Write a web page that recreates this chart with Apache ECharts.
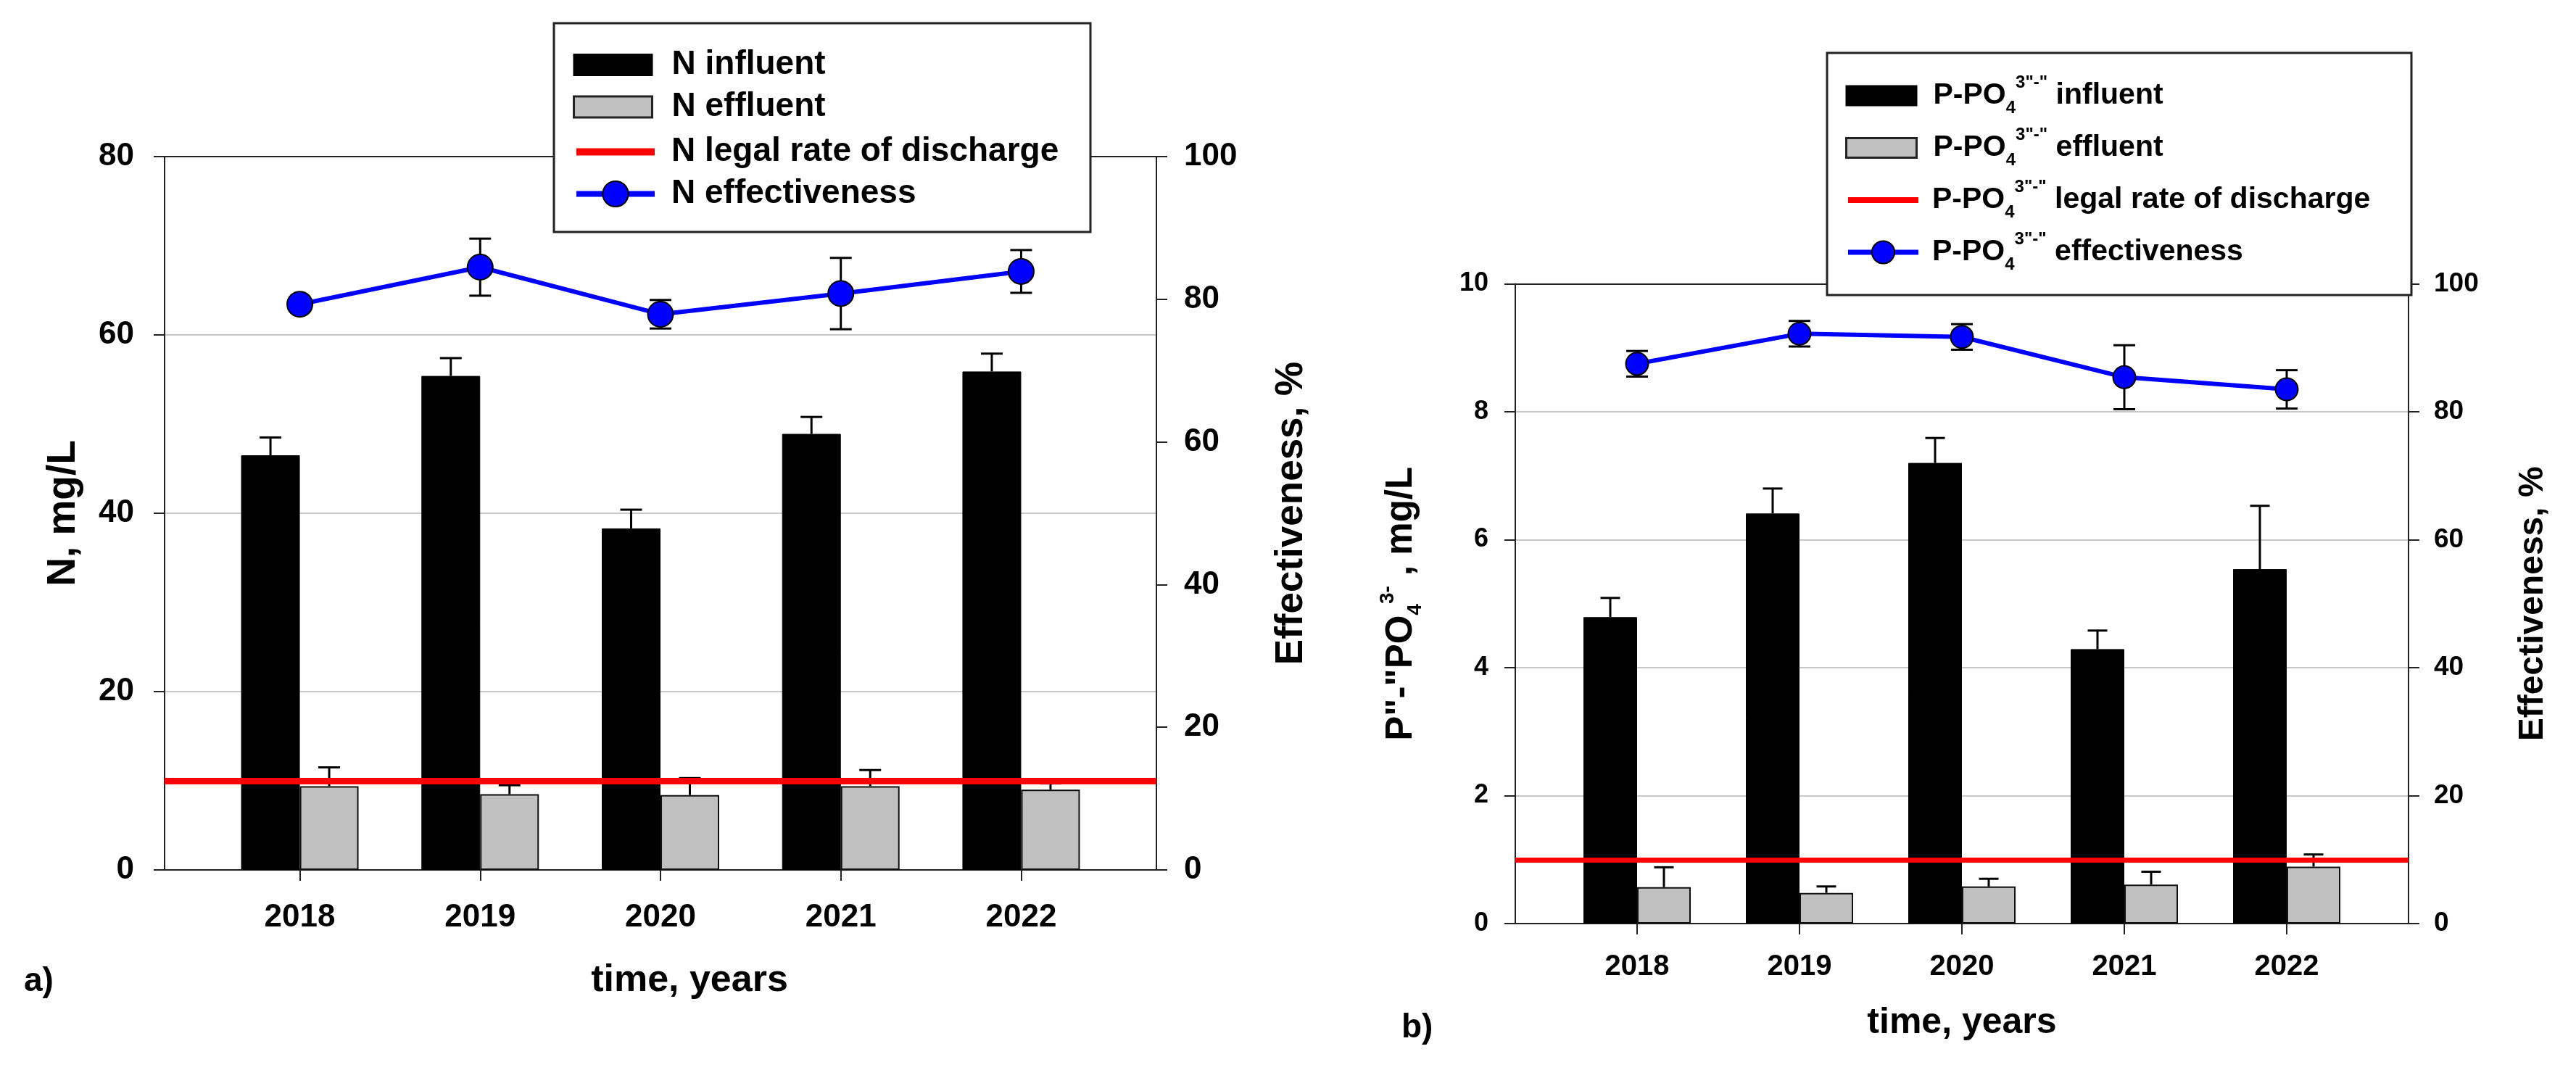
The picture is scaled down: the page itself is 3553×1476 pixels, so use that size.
<!DOCTYPE html>
<html><head><meta charset="utf-8">
<script src="https://cdn.jsdelivr.net/npm/echarts@6/dist/echarts.min.js"></script>
<style>html,body{margin:0;padding:0;background:#fff}#c{width:3553px;height:1476px}</style>
</head><body><div id="c"></div>
<script>
// ---------- data ----------
const years = ['2018', '2019', '2020', '2021', '2022'];

const nInfluent    = [46.5, 55.4, 38.3, 48.9, 55.9];
const nInfluentErr = [2.0, 2.0, 2.1, 1.9, 2.0];
const nEffluent    = [9.4, 8.5, 8.4, 9.4, 9.0];
const nEffluentErr = [2.1, 1.0, 1.9, 1.8, 0.7];
const nEffect      = [79.3, 84.5, 77.9, 80.8, 83.9];
const nEffectErr   = [0.8, 4.0, 2.0, 5.0, 3.0];
const nLegal = 10;

const pInfluent    = [4.79, 6.41, 7.20, 4.29, 5.54];
const pInfluentErr = [0.30, 0.39, 0.39, 0.29, 0.99];
const pEffluent    = [0.57, 0.48, 0.58, 0.61, 0.89];
const pEffluentErr = [0.31, 0.10, 0.12, 0.20, 0.19];
const pEffect      = [87.5, 92.2, 91.7, 85.4, 83.5];
const pEffectErr   = [2.0, 2.0, 2.0, 5.0, 3.0];
const pLegal = 1;

const nAxis = { min: 0, max: 80, interval: 20 };
const pAxis = { min: 0, max: 10, interval: 2 };
const effAxis = { min: 0, max: 100, interval: 20 };

// ---------- helpers ----------
const FONT = 'Liberation Sans, Arial, sans-serif';
const AX = '#222';
function errData(vals, errs) { return vals.map((v, i) => [i, v, errs[i]]); }
function errRender(offsetPx, capW, both) {
  return function (params, api) {
    const i = api.value(0), v = api.value(1), e = api.value(2);
    const hi = api.coord([i, v + e]);
    const lo = api.coord([i, both ? v - e : v]);
    const x = hi[0] + offsetPx;
    const st = { stroke: '#000', lineWidth: 3 };
    const ch = [
      { type: 'line', shape: { x1: x, y1: hi[1], x2: x, y2: lo[1] }, style: st },
      { type: 'line', shape: { x1: x - capW / 2, y1: hi[1], x2: x + capW / 2, y2: hi[1] }, style: st }
    ];
    if (both) ch.push({ type: 'line', shape: { x1: x - capW / 2, y1: lo[1], x2: x + capW / 2, y2: lo[1] }, style: st });
    return { type: 'group', children: ch };
  };
}
function frameX(gi, pos) {
  return { gridIndex: gi, type: 'value', min: 0, max: 1, position: pos,
    axisLine: { show: true, onZero: false, lineStyle: { color: AX, width: 2 } },
    axisTick: { show: false }, axisLabel: { show: false }, splitLine: { show: false } };
}
function frameY(gi, pos, rng, labelSize, margin, showSplit, name, nameGap, nameStyle) {
  return Object.assign({ gridIndex: gi, type: 'value', position: pos,
    axisLine: { show: true, onZero: false, lineStyle: { color: AX, width: 2 } },
    axisTick: { show: true, inside: false, length: 15, lineStyle: { color: AX, width: 2 } },
    axisLabel: { fontSize: labelSize, fontWeight: 'bold', color: '#000', fontFamily: FONT, margin: margin },
    splitLine: { show: showSplit, lineStyle: { color: '#c8c8c8', width: 2 } },
    name: name, nameLocation: 'middle', nameGap: nameGap,
    nameTextStyle: Object.assign({ fontWeight: 'bold', color: '#000', fontFamily: FONT }, nameStyle)
  }, rng);
}
function hiddenY(gi, rng) { return Object.assign({ gridIndex: gi, type: 'value', show: false, axisLine: { onZero: false } }, rng); }
function catX(gi, size, margin) {
  return { gridIndex: gi, type: 'category', data: years, boundaryGap: true,
    axisLine: { show: false, onZero: false },
    axisTick: { show: true, alignWithLabel: true, inside: false, length: 15, lineStyle: { color: AX, width: 2 } },
    axisLabel: { fontSize: size, fontWeight: 'bold', color: '#000', fontFamily: FONT, margin: margin } };
}

// ---------- geometry ----------
const A = { left: 227, top: 216, width: 1368, height: 984 };
const aBand = A.width / 5.5;
const B = { left: 2090, top: 391.5, width: 1232, height: 882.5 };
const bBand = B.width / 5.5;

const pre = 'P-PO{s|4}{p|3"-"}';
const pNames = { inf: 'P-PO4 influent', eff: 'P-PO4 effluent', leg: 'P-PO4 legal rate of discharge', ef: 'P-PO4 effectiveness' };
const pFmt = function (name) { return pre + name.slice(5); };
const richSub = {
  s: { fontSize: 24, fontWeight: 'bold', fontFamily: FONT, lineHeight: 24, verticalAlign: 'bottom', color: '#000' },
  p: { fontSize: 24, fontWeight: 'bold', fontFamily: FONT, lineHeight: 24, verticalAlign: 'top', color: '#000' }
};
const richSubName = {
  s: { fontSize: 28, fontWeight: 'bold', fontFamily: FONT, lineHeight: 28, verticalAlign: 'bottom', color: '#000' },
  p: { fontSize: 28, fontWeight: 'bold', fontFamily: FONT, lineHeight: 28, verticalAlign: 'top', color: '#000' }
};
function legTextA(padL) { return { fontSize: 46, fontWeight: 'bold', color: '#000', fontFamily: FONT, padding: [0, 0, 0, padL] }; }
function legTextB(padL) { return { fontSize: 41, fontWeight: 'bold', color: '#000', fontFamily: FONT, lineHeight: 59, padding: [0, 0, 0, padL], rich: richSub }; }

const option = {
  animation: false,
  backgroundColor: '#fff',
  title: [
    { text: 'a)', left: 28, top: 1326, textStyle: { fontSize: 46, fontWeight: 'bold', color: '#000', fontFamily: FONT } },
    { text: 'b)', left: 1928, top: 1390, textStyle: { fontSize: 46, fontWeight: 'bold', color: '#000', fontFamily: FONT } }
  ],
  grid: [
    { left: A.left, top: A.top, width: A.width, height: A.height },
    { left: A.left + aBand * 0.25, top: A.top, width: aBand * 5, height: A.height },
    { left: B.left, top: B.top, width: B.width, height: B.height },
    { left: B.left + bBand * 0.25, top: B.top, width: bBand * 5, height: B.height }
  ],
  xAxis: [
    Object.assign(frameX(0, 'bottom'), { name: 'time, years', nameLocation: 'middle', nameGap: 127,
      nameTextStyle: { fontSize: 52, fontWeight: 'bold', color: '#000', fontFamily: FONT, padding: [0, 0, 0, 80] } }),
    frameX(0, 'top'),
    catX(1, 44, 44),
    Object.assign(frameX(2, 'bottom'), { name: 'time, years', nameLocation: 'middle', nameGap: 112,
      nameTextStyle: { fontSize: 50, fontWeight: 'bold', color: '#000', fontFamily: FONT } }),
    frameX(2, 'top'),
    catX(3, 40, 40)
  ],
  yAxis: [
    frameY(0, 'left', nAxis, 44, 42, true, 'N, mg/L', 112, { fontSize: 55 }),
    frameY(0, 'right', effAxis, 44, 38, false, 'Effectiveness, %', 160, { fontSize: 53 }),
    hiddenY(1, nAxis),
    hiddenY(1, effAxis),
    frameY(2, 'left', pAxis, 36, 37, true, 'P"-"PO{s|4}{p|3-} , mg/L', 124, { fontSize: 51, lineHeight: 66, rich: richSubName }),
    frameY(2, 'right', effAxis, 37, 35, false, 'Effectiveness, %', 148, { fontSize: 48 }),
    hiddenY(3, pAxis),
    hiddenY(3, effAxis)
  ],
  legend: [
    { left: 790, top: 66.5, orient: 'vertical', padding: 0, itemWidth: 108, itemHeight: 29, itemGap: 12, selectedMode: false,
      textStyle: legTextA(22),
      data: [
        { name: 'N influent', icon: 'rect', itemStyle: { color: '#000', borderColor: '#000', borderWidth: 2 } },
        { name: 'N effluent', icon: 'rect', itemStyle: { color: '#C0C0C0', borderColor: '#222', borderWidth: 3 } }
      ] },
    { left: 790, top: 186.5, orient: 'vertical', padding: 0, itemWidth: 108, itemHeight: 44, itemGap: 12, selectedMode: false,
      textStyle: legTextA(18),
      data: [
        { name: 'N legal rate of discharge', itemStyle: { opacity: 0 }, lineStyle: { color: '#FF0000', width: 10 } },
        { name: 'N effectiveness', lineStyle: { color: '#0000FF', width: 8 } }
      ] },
    { left: 2545, top: 102.5, orient: 'vertical', padding: 0, itemWidth: 97, itemHeight: 27, itemGap: 13, selectedMode: false,
      formatter: pFmt, textStyle: legTextB(18),
      data: [
        { name: pNames.inf, icon: 'rect', itemStyle: { color: '#000', borderColor: '#000', borderWidth: 2 } },
        { name: pNames.eff, icon: 'rect', itemStyle: { color: '#C0C0C0', borderColor: '#222', borderWidth: 3 } }
      ] },
    { left: 2545, top: 246.5, orient: 'vertical', padding: 0, itemWidth: 97, itemHeight: 39, itemGap: 13, selectedMode: false,
      formatter: pFmt, textStyle: legTextB(14),
      data: [
        { name: pNames.leg, itemStyle: { opacity: 0 }, lineStyle: { color: '#FF0000', width: 8 } },
        { name: pNames.ef, lineStyle: { color: '#0000FF', width: 7 } }
      ] }
  ],
  graphic: [
    { type: 'rect', z: 3, shape: { x: 764, y: 32, width: 740, height: 288 }, style: { fill: '#fff', stroke: '#222', lineWidth: 3 } },
    { type: 'rect', z: 3, shape: { x: 2520, y: 73, width: 806, height: 334 }, style: { fill: '#fff', stroke: '#222', lineWidth: 3 } }
  ],
  series: [
    // ---- chart a ----
    { name: 'N influent', type: 'bar', xAxisIndex: 2, yAxisIndex: 2, data: nInfluent, barWidth: 81, barGap: '0%', z: 2,
      itemStyle: { color: '#000', borderColor: '#000', borderWidth: 1 } },
    { name: 'N effluent', type: 'bar', xAxisIndex: 2, yAxisIndex: 2, data: nEffluent, barWidth: 81, barGap: '0%', z: 2,
      itemStyle: { color: '#C0C0C0', borderColor: '#111', borderWidth: 2 } },
    { type: 'custom', xAxisIndex: 2, yAxisIndex: 2, data: errData(nInfluent, nInfluentErr), renderItem: errRender(-40.5, 30, false), z: 3, silent: true },
    { type: 'custom', xAxisIndex: 2, yAxisIndex: 2, data: errData(nEffluent, nEffluentErr), renderItem: errRender(40.5, 30, false), z: 3, silent: true },
    { name: 'N legal rate of discharge', type: 'line', xAxisIndex: 0, yAxisIndex: 0, data: [], symbol: 'none', z: 5,
      color: '#FF0000', lineStyle: { color: '#FF0000', width: 9 },
      markLine: { silent: true, symbol: ['none', 'none'], label: { show: false }, lineStyle: { color: '#FF0000', width: 9, type: 'solid' }, data: [{ yAxis: nLegal }] } },
    { type: 'custom', xAxisIndex: 2, yAxisIndex: 3, data: errData(nEffect, nEffectErr), renderItem: errRender(0, 30, true), z: 6, silent: true },
    { name: 'N effectiveness', type: 'line', xAxisIndex: 2, yAxisIndex: 3, data: nEffect, z: 7,
      symbol: 'circle', symbolSize: 35, color: '#0000FF',
      lineStyle: { color: '#0000FF', width: 6 }, itemStyle: { color: '#0000FF', borderColor: '#000', borderWidth: 2 } },
    // ---- chart b ----
    { name: pNames.inf, type: 'bar', xAxisIndex: 5, yAxisIndex: 6, data: pInfluent, barWidth: 74, barGap: '0%', z: 2,
      itemStyle: { color: '#000', borderColor: '#000', borderWidth: 1 } },
    { name: pNames.eff, type: 'bar', xAxisIndex: 5, yAxisIndex: 6, data: pEffluent, barWidth: 74, barGap: '0%', z: 2,
      itemStyle: { color: '#C0C0C0', borderColor: '#111', borderWidth: 2 } },
    { type: 'custom', xAxisIndex: 5, yAxisIndex: 6, data: errData(pInfluent, pInfluentErr), renderItem: errRender(-37, 27, false), z: 3, silent: true },
    { type: 'custom', xAxisIndex: 5, yAxisIndex: 6, data: errData(pEffluent, pEffluentErr), renderItem: errRender(37, 27, false), z: 3, silent: true },
    { name: pNames.leg, type: 'line', xAxisIndex: 3, yAxisIndex: 4, data: [], symbol: 'none', z: 5,
      color: '#FF0000', lineStyle: { color: '#FF0000', width: 7 },
      markLine: { silent: true, symbol: ['none', 'none'], label: { show: false }, lineStyle: { color: '#FF0000', width: 7, type: 'solid' }, data: [{ yAxis: pLegal }] } },
    { type: 'custom', xAxisIndex: 5, yAxisIndex: 7, data: errData(pEffect, pEffectErr), renderItem: errRender(0, 30, true), z: 6, silent: true },
    { name: pNames.ef, type: 'line', xAxisIndex: 5, yAxisIndex: 7, data: pEffect, z: 7,
      symbol: 'circle', symbolSize: 31, color: '#0000FF',
      lineStyle: { color: '#0000FF', width: 6 }, itemStyle: { color: '#0000FF', borderColor: '#000', borderWidth: 2 } }
  ]
};

const chart = echarts.init(document.getElementById('c'), null, { renderer: 'canvas' });
chart.setOption(option);
</script>
</body></html>
